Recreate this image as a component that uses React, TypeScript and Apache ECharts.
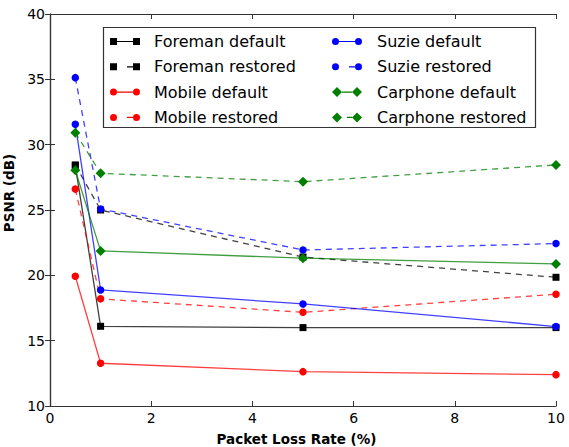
import React, { useEffect, useRef } from "react";
import * as echarts from "echarts";

const lossRates = [0.5, 1, 5, 10];
const foremanDefault = [28.4, 16.1, 16.0, 16.0];
const foremanRestored = [28.45, 25.0, 21.4, 19.85];
const mobileDefault = [19.93, 13.27, 12.63, 12.4];
const mobileRestored = [26.6, 18.2, 17.17, 18.55];
const suzieDefault = [31.56, 18.88, 17.81, 16.08];
const suzieRestored = [35.13, 25.08, 21.94, 22.43];
const carphoneDefault = [28.04, 21.87, 21.31, 20.87];
const carphoneRestored = [30.92, 27.81, 27.17, 28.45];

const xTicks = { min: 0, max: 10, interval: 2 };
const yTicks = { min: 10, max: 40, interval: 5 };

const FONT = "DejaVu Sans";

// legend icons drawn in a 30x10 box: two markers joined by a solid or dashed line
const anchors = "M15 0h0.01v0.01h-0.01Z M15 10h0.01v-0.01h-0.01Z ";
const sq = (x: number) => `M${x} 1.5h7v7h-7Z `;
const ci = (cx: number) => `M${cx - 3.5} 5a3.5 3.5 0 1 0 7 0a3.5 3.5 0 1 0 -7 0Z `;
const di = (cx: number) => `M${cx - 5} 5L${cx} 0L${cx + 5} 5L${cx} 10Z `;
const solid = (a: number, b: number) => `M${a} 4.4h${b - a}v1.2h${a - b}Z `;
const icons: Record<string, string> = {
  sqSolid: "path://" + anchors + sq(0) + sq(23) + solid(7, 23),
  sqDash: "path://" + anchors + sq(0) + sq(23) + solid(17, 23),
  ciSolid: "path://" + anchors + ci(3.5) + ci(26.5) + solid(7, 23),
  ciDash: "path://" + anchors + ci(3.5) + ci(26.5) + solid(17, 23),
  diSolid: "path://" + anchors + di(5) + di(25) + solid(10, 20),
  diDash: "path://" + anchors + di(5) + di(25) + solid(15, 20),
};

export default function App() {
  const ref = useRef<HTMLDivElement>(null);
  useEffect(() => {
    if (!ref.current) return;
    const chart = echarts.init(ref.current, undefined, { renderer: "svg" });
    const mk = (
      name: string,
      vals: number[],
      color: string,
      symbol: string,
      size: number,
      dashed: boolean
    ) => ({
      name,
      type: "line",
      data: lossRates.map((x, i) => [x, vals[i]]),
      symbol,
      symbolSize: size,
      showAllSymbol: true,
      itemStyle: { color, opacity: 1 },
      lineStyle: {
        color,
        width: 1.3,
        opacity: 0.75,
        type: dashed ? [6, 5] : "solid",
      },
      emphasis: { disabled: true },
      xAxisIndex: 0,
      yAxisIndex: 0,
    });
    const series = [
      mk("Foreman default", foremanDefault, "#000000", "rect", 7, false),
      mk("Foreman restored", foremanRestored, "#000000", "rect", 7, true),
      mk("Mobile default", mobileDefault, "#ff0000", "circle", 7.5, false),
      mk("Mobile restored", mobileRestored, "#ff0000", "circle", 7.5, true),
      mk("Suzie default", suzieDefault, "#0000ff", "circle", 7.5, false),
      mk("Suzie restored", suzieRestored, "#0000ff", "circle", 7.5, true),
      mk("Carphone default", carphoneDefault, "#007f00", "diamond", 10, false),
      mk("Carphone restored", carphoneRestored, "#007f00", "diamond", 10, true),
    ];
    const axisLine = { show: true, lineStyle: { color: "#333", width: 1.2 } };
    const tick = { show: true, inside: true, length: 5, lineStyle: { color: "#333" } };
    const legendCommon = {
      orient: "vertical",
      top: 33.5,
      padding: 0,
      itemWidth: 30,
      itemHeight: 10,
      itemGap: 9.3,
      selectedMode: false,
      itemStyle: { borderWidth: 0 },
      textStyle: {
        fontFamily: FONT,
        fontSize: 16,
        color: "#000",
        lineHeight: 14,
      },
    };
    chart.setOption({
      animation: false,
      grid: {
        left: 50,
        right: 13,
        top: 14,
        bottom: 41,
        containLabel: false,
        outerBoundsMode: "none",
      },
      xAxis: [
        {
          type: "value",
          ...xTicks,
          axisLine,
          axisTick: tick,
          splitLine: { show: false },
          axisLabel: { fontFamily: FONT, fontSize: 14, color: "#000", margin: 5 },
          name: "Packet Loss Rate (%)",
          nameLocation: "middle",
          nameGap: 26,
          nameTextStyle: {
            fontFamily: FONT,
            fontSize: 13.5,
            fontWeight: "bold",
            color: "#000",
            padding: [0, 13, 0, 0],
          },
        },
        {
          type: "value",
          ...xTicks,
          position: "top",
          axisLine,
          axisTick: tick,
          splitLine: { show: false },
          axisLabel: { show: false },
        },
      ],
      yAxis: [
        {
          type: "value",
          ...yTicks,
          axisLine,
          axisTick: tick,
          splitLine: { show: false },
          axisLabel: { fontFamily: FONT, fontSize: 14, color: "#000", margin: 5 },
          name: "PSNR (dB)",
          nameLocation: "middle",
          nameGap: 30,
          nameTextStyle: {
            fontFamily: FONT,
            fontSize: 13.5,
            fontWeight: "bold",
            color: "#000",
            padding: [0, 0, 0, 34],
          },
        },
        {
          type: "value",
          ...yTicks,
          position: "right",
          axisLine,
          axisTick: tick,
          splitLine: { show: false },
          axisLabel: { show: false },
        },
      ],
      legend: [
        {
          ...legendCommon,
          left: 110,
          textStyle: { ...legendCommon.textStyle, padding: [0, 0, 0, 9] },
          data: [
            { name: "Foreman default", icon: icons.sqSolid },
            { name: "Foreman restored", icon: icons.sqDash },
            { name: "Mobile default", icon: icons.ciSolid },
            { name: "Mobile restored", icon: icons.ciDash },
          ],
        },
        {
          ...legendCommon,
          left: 332,
          textStyle: { ...legendCommon.textStyle, padding: [0, 0, 0, 10] },
          data: [
            { name: "Suzie default", icon: icons.ciSolid },
            { name: "Suzie restored", icon: icons.ciDash },
            { name: "Carphone default", icon: icons.diSolid },
            { name: "Carphone restored", icon: icons.diDash },
          ],
        },
      ],
      graphic: [
        {
          type: "rect",
          shape: { x: 103.5, y: 27.5, width: 432, height: 100 },
          style: { fill: "#fff", stroke: "#333", lineWidth: 1.2 },
          z: -1,
        },
      ],
      series,
    });
    return () => chart.dispose();
  }, []);
  return (
    <div
      ref={ref}
      style={{ position: "absolute", left: 0, top: 0, width: 569, height: 447 }}
    />
  );
}
